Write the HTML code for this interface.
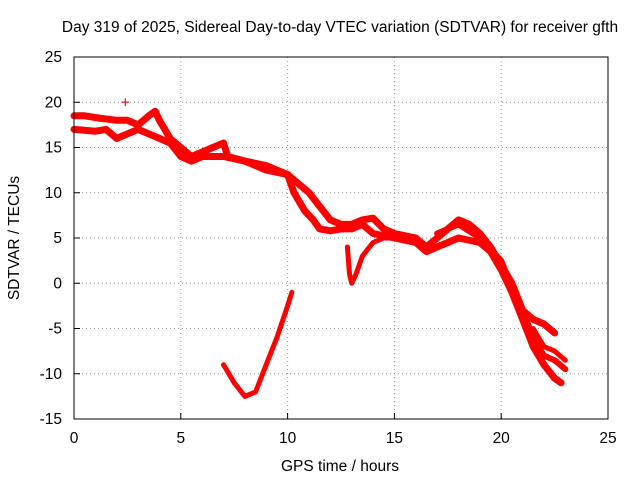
<!DOCTYPE html>
<html><head><meta charset="utf-8"><style>
body{margin:0;background:#fff;}
svg{display:block;font-family:"Liberation Sans",sans-serif;font-size:15.5px;}
</style></head><body>
<svg id="c" width="640" height="480">
<text x="340" y="32" text-anchor="middle">Day 319 of 2025, Sidereal Day-to-day VTEC variation (SDTVAR) for receiver gfth</text>
<text x="340" y="471" text-anchor="middle">GPS time / hours</text>
<text x="19" y="238" text-anchor="middle" transform="rotate(-90 19 238)">SDTVAR / TECUs</text>
<g id="grid"></g><g id="marks"></g>
<rect x="74" y="57" width="534" height="362" fill="none" stroke="#000"/>
</svg>
<script>
const xTicks=[0,5,10,15,20,25];
const yTicks=[25,20,15,10,5,0,-5,-10,-15];
const upperX=[0,0.5,1,2,2.5,3,3.5,3.8,4,4.5,5,5.5,6,6.5,7,7.2,8,9,10,10.5,11,11.5,12,12.5,13,13.5,14,14.5,15,16,16.5,17,17.5,18,18.5,19,19.5,20,20.5,21,21.5,22,22.5];
const upperY=[18.5,18.5,18.3,18,18,17.5,18.5,19,18,16,15,14,14.5,15,15.5,14,13.5,13,12,11,10,8.5,7,6.5,6.5,7,7.2,6,5.5,5,4,5,6,7,6.5,5.5,4,2,0,-3,-4,-4.5,-5.5];
const lowerX=[0,1,1.5,2,2.5,3,4,4.5,5,5.5,6,7,8,9,10,10.3,10.8,11.2,11.5,12,12.5,13,13.5,14,15,16,16.5,17,18,19,19.5,20,20.5,21,21.5,22,22.5,22.8];
const lowerY=[17,16.8,17,16,16.5,17,16,15.5,14,13.5,14,14,13.5,12.5,12,10,8,7,6,5.8,6,6,6.5,5.5,5,4.5,3.5,4,5,4.5,3.5,1.5,-1,-4,-7,-9,-10.5,-11];
const thirdX=[17,18,19,20,20.5,21,21.5,22,22.5,23];
const thirdY=[5.5,6.5,5,2.5,-0.5,-3,-6,-8,-8.5,-9.5];
const fourthX=[21.5,22,22.5,23];
const fourthY=[-5,-7,-7.5,-8.5];
const dipLeftX=[7,7.5,8,8.5,9,9.5,10,10.2];
const dipLeftY=[-9,-11,-12.5,-12,-9,-6,-2.5,-1];
const dipMidX=[12.8,12.9,13,13.2,13.5,14,14.5,15];
const dipMidY=[4,1,0,1,3,4.5,5,5];
const outlierX=[2.4];
const outlierY=[20];
const sx=v=>74+v*(534/25);
const sy=v=>419-(v+15)*(362/40);
const NS="http://www.w3.org/2000/svg";
const svg=document.getElementById('c'),grid=document.getElementById('grid'),marks=document.getElementById('marks');
function mk(t,a,p){const e=document.createElementNS(NS,t);for(const k in a)e.setAttribute(k,a[k]);(p||svg).appendChild(e);return e;}
xTicks.forEach(v=>{
 if(v>0&&v<25){const g=mk('line',{x1:sx(v),x2:sx(v),y1:57,y2:419,stroke:'#999','stroke-dasharray':'1,3'},grid);
 
 }
 const t=mk('line',{x1:sx(v),x2:sx(v),y1:419,y2:413,stroke:'#000'},grid);
 
 
 const l=mk('text',{x:sx(v),y:443,'text-anchor':'middle'});l.textContent=v;
 
 
});
yTicks.forEach(v=>{
 if(v>-15&&v<25){const g=mk('line',{x1:74,x2:608,y1:sy(v),y2:sy(v),stroke:'#999','stroke-dasharray':'1,3'},grid);
 
 }
 const t=mk('line',{x1:74,x2:80,y1:sy(v),y2:sy(v),stroke:'#000'},grid);
 
 
 const l=mk('text',{x:62,y:sy(v)+5,'text-anchor':'end'});l.textContent=v;
 
 
});
function series(xs,ys,name,w){
 const d=xs.map((x,i)=>(i?'L':'M')+sx(x).toFixed(1)+','+sy(ys[i]).toFixed(1)).join('');
 const p=mk('path',{d:d,fill:'none',stroke:'#f00','stroke-width':w,'stroke-linejoin':'round','stroke-linecap':'round'},marks);
 
 
}
series(upperX,upperY,'upper-strand',7);
series(lowerX,lowerY,'lower-strand',7);
series(thirdX,thirdY,'third-strand',6);
series(fourthX,fourthY,'fourth-strand',5);
series(dipLeftX,dipLeftY,'left-dip-track',5);
series(dipMidX,dipMidY,'mid-dip-track',5);
outlierX.forEach((x,i)=>{
 const t=mk('text',{x:sx(x),y:sy(outlierY[i])+5,'text-anchor':'middle',fill:'#f00'},marks);t.textContent='+';
 
 
});
</script>
</body></html>
